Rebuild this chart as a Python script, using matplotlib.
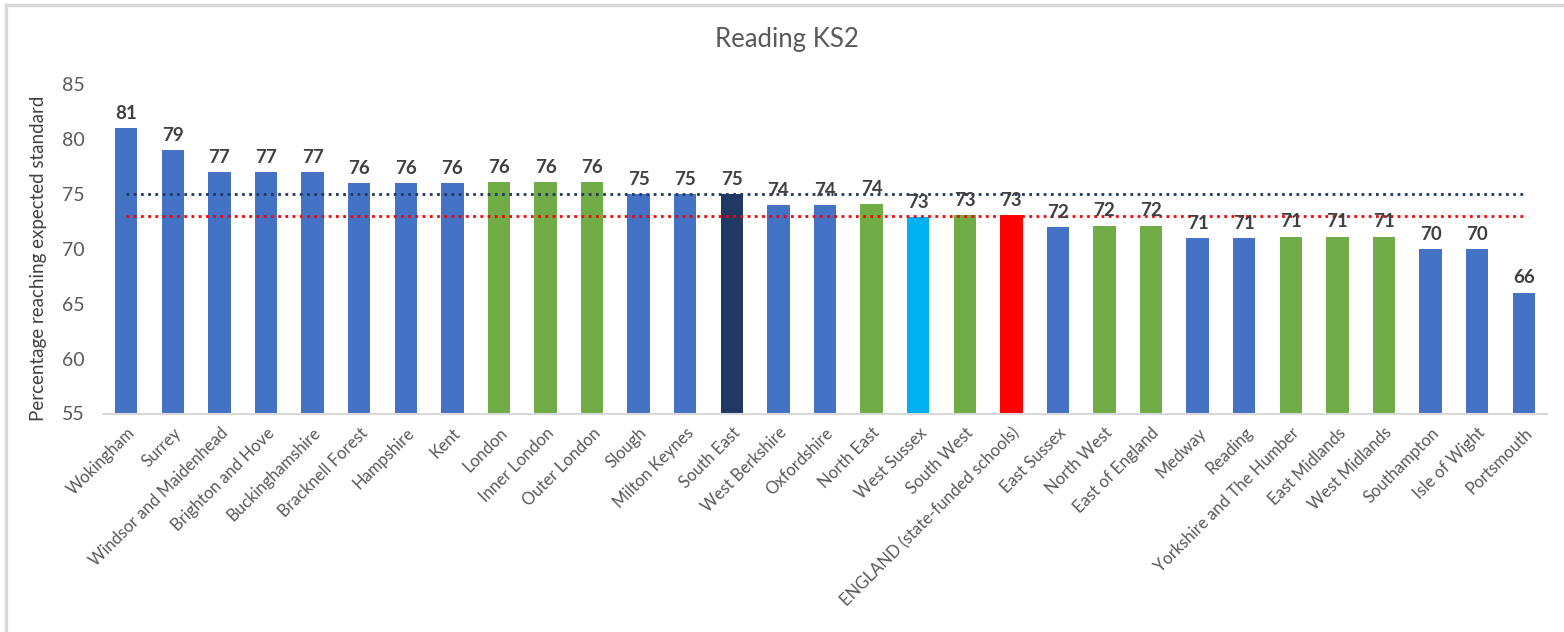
import matplotlib
matplotlib.use("Agg")
import matplotlib.pyplot as plt
from matplotlib.lines import Line2D

plt.rcParams["font.family"] = ["Lato", "DejaVu Sans"]

areas = [
    "Wokingham", "Surrey", "Windsor and Maidenhead", "Brighton and Hove",
    "Buckinghamshire", "Bracknell Forest", "Hampshire", "Kent", "London",
    "Inner London", "Outer London", "Slough", "Milton Keynes", "South East",
    "West Berkshire", "Oxfordshire", "North East", "West Sussex", "South West",
    "ENGLAND (state-funded schools)", "East Sussex", "North West",
    "East of England", "Medway", "Reading", "Yorkshire and The Humber",
    "East Midlands", "West Midlands", "Southampton", "Isle of Wight", "Portsmouth",
]
values = [
    81, 79, 77, 77, 77, 76, 76, 76, 76.1, 76.1, 76.1, 75, 75, 75, 74, 74, 74.1,
    72.9, 73.05, 73.05, 72, 72.1, 72.1, 71, 71, 71.1, 71.1, 71.1, 70, 70, 66,
]
# area type decides the bar colour
kinds = [
    "la", "la", "la", "la", "la", "la", "la", "la", "region", "region", "region",
    "la", "la", "south_east", "la", "la", "region", "west_sussex", "region",
    "england", "la", "region", "region", "la", "la", "region", "region", "region",
    "la", "la", "la",
]
south_east_avg = 75
england_avg = 73

palette = {
    "la": "#4472C4",
    "region": "#70AD47",
    "south_east": "#203864",
    "west_sussex": "#00B0F0",
    "england": "#FF0000",
}

W, H = 1564, 632
fig = plt.figure(figsize=(W / 100, H / 100), dpi=100)
ax = fig.add_axes([103 / W, 1 - 413.5 / H, (1547 - 103) / W, (413.5 - 84) / H])

x = list(range(len(areas)))
ax.bar(x, [v - 55 for v in values], bottom=55, width=0.48,
       color=[palette[k] for k in kinds], zorder=2)

for xi, v in zip(x, values):
    ax.annotate(f"{round(v)}", (xi, v), xytext=(0, 4.5), textcoords="offset points",
                ha="center", va="bottom", fontsize=13.5, fontweight="bold",
                color="#404040", zorder=4)

ax.plot([x[0], x[-1]], [south_east_avg] * 2, linestyle=(0, (1, 1.6)),
        color="#203864", linewidth=2, zorder=3)
ax.plot([x[0], x[-1]], [england_avg] * 2, linestyle=(0, (1, 1.6)),
        color="#FF0000", linewidth=2, zorder=3)

ax.set_xlim(-0.5, len(areas) - 0.5)
ax.set_ylim(55, 85)
ax.set_yticks(range(55, 86, 5))
ax.tick_params(axis="y", length=0, labelsize=14, labelcolor="#595959", pad=13)
ax.set_xticks(x)
ax.set_xticklabels(areas, rotation=45, ha="right", rotation_mode="anchor")
ax.tick_params(axis="x", length=0, labelsize=12, labelcolor="#595959", pad=8)

for side in ["top", "right", "left"]:
    ax.spines[side].set_visible(False)
ax.spines["bottom"].set_color("#D9D9D9")
ax.spines["bottom"].set_linewidth(1.5)

ax.set_ylabel("Percentage reaching expected standard", fontsize=13.5,
              color="#404040")
ax.yaxis.set_label_coords((47 - 103) / (1547 - 103), 0.472)

fig.text(787 / W, 1 - 40 / H, "Reading KS2", ha="center", va="center",
         fontsize=18.5, color="#595959")

# light frame of the chart area (top and left edge are visible)
fig.add_artist(Line2D([6 / W, 1], [1 - 5 / H, 1 - 5 / H], color="#D9D9D9",
                      linewidth=2.5, transform=fig.transFigure))
fig.add_artist(Line2D([6 / W, 6 / W], [0, 1 - 5 / H], color="#D9D9D9",
                      linewidth=2.5, transform=fig.transFigure))

fig.savefig("out.png", dpi=100)
